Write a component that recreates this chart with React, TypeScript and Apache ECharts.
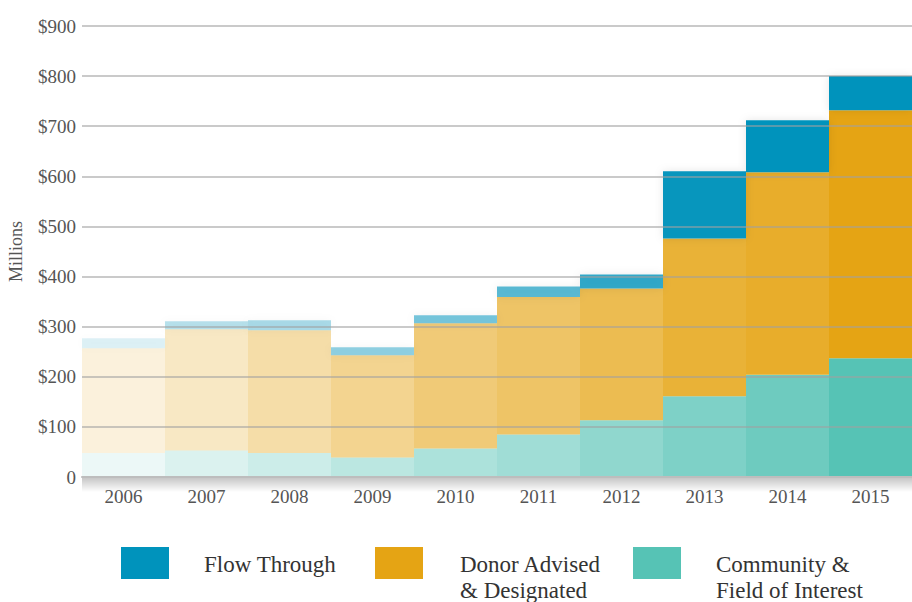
import React, { useEffect, useRef } from "react";
import * as echarts from "echarts";

const years = ["2006", "2007", "2008", "2009", "2010", "2011", "2012", "2013", "2014", "2015"];
const community = [48, 53, 48, 39, 57, 85, 113, 161, 204, 237];
const donorAdvised = [209, 242, 245, 204, 250, 274, 263, 315, 404, 495];
const flowThrough = [20, 16, 20, 16, 16, 21, 28, 134, 104, 68];
const yTicks = ["0", "$100", "$200", "$300", "$400", "$500", "$600", "$700", "$800", "$900"];

const seriesNames = ["Flow Through", "Donor Advised\n& Designated", "Community &\nField of Interest"];
const COLORS = { flow: "#0093BC", donor: "#E5A414", community: "#56C3B5" };
const opCommunity = [0.11, 0.21, 0.3, 0.4, 0.49, 0.56, 0.66, 0.76, 0.86, 1];
const opDonor = [0.15, 0.25, 0.37, 0.47, 0.58, 0.65, 0.74, 0.85, 0.9, 1];
const opFlow = [0.13, 0.28, 0.33, 0.43, 0.53, 0.64, 0.8, 0.97, 1, 1];

const FONT = "'Liberation Serif', 'DejaVu Serif', serif";

export default function App() {
  const ref = useRef<HTMLDivElement>(null);
  useEffect(() => {
    if (!ref.current) return;
    const chart = echarts.init(ref.current, undefined, { renderer: "svg" });
    const mk = (vals: number[], ops: number[]) => vals.map((v, i) => ({ value: v, itemStyle: { opacity: ops[i] } }));
    const legendItems = [
      { name: seriesNames[0], color: COLORS.flow, x: 121, tx: 204 },
      { name: seriesNames[1], color: COLORS.donor, x: 375, tx: 460 },
      { name: seriesNames[2], color: COLORS.community, x: 633, tx: 716 },
    ];
    const graphics: any[] = [
      {
        type: "rect",
        left: 82,
        top: 478,
        z: 1,
        shape: { width: 830, height: 14 },
        style: {
          fill: new echarts.graphic.LinearGradient(0, 0, 0, 1, [
            { offset: 0, color: "rgba(0,0,0,0.22)" },
            { offset: 1, color: "rgba(0,0,0,0)" },
          ]),
        },
      },
    ];
    legendItems.forEach((it) => {
      graphics.push({ type: "rect", left: it.x, top: 547, shape: { width: 48, height: 32 }, style: { fill: it.color } });
      graphics.push({
        type: "text",
        left: it.tx,
        top: 551,
        style: { text: it.name, font: `23px ${FONT}`, fill: "#333", lineHeight: 26 },
      });
    });
    const shadow = { shadowBlur: 8, shadowColor: "rgba(0,0,0,0.10)" };
    chart.setOption({
      animation: false,
      grid: { left: 82, right: 0, top: 26, bottom: 125, containLabel: false, outerBoundsMode: "none" },
      xAxis: {
        type: "category",
        data: years,
        axisLine: { show: true, lineStyle: { color: "#bdbdbd", width: 2 } },
        axisTick: { show: false },
        axisLabel: { color: "#555", fontFamily: FONT, fontSize: 19, margin: 10 },
        z: 5,
      },
      yAxis: {
        type: "value",
        min: 0,
        max: 900,
        interval: 100,
        name: "Millions",
        nameLocation: "middle",
        nameGap: 57,
        nameRotate: 90,
        nameTextStyle: { color: "#555", fontFamily: FONT, fontSize: 18 },
        axisLine: { show: false },
        axisTick: { show: false },
        axisLabel: {
          color: "#555",
          fontFamily: FONT,
          fontSize: 19,
          margin: 6,
          formatter: (v: number) => yTicks[Math.round(v / 100)],
        },
        splitLine: { show: true, lineStyle: { color: "rgba(160,160,160,0.75)", width: 1.5 } },
        z: 5,
      },
      series: [
        {
          name: seriesNames[2],
          type: "bar",
          stack: "total",
          barWidth: "100%",
          itemStyle: { color: COLORS.community },
          data: mk(community, opCommunity),
        },
        {
          name: seriesNames[1],
          type: "bar",
          stack: "total",
          barWidth: "100%",
          itemStyle: { color: COLORS.donor },
          data: mk(donorAdvised, opDonor),
        },
        {
          name: seriesNames[0],
          type: "bar",
          stack: "total",
          barWidth: "100%",
          itemStyle: { color: COLORS.flow, ...shadow },
          data: mk(flowThrough, opFlow),
        },
      ],
      graphic: graphics,
    });
    return () => chart.dispose();
  }, []);
  return <div ref={ref} style={{ position: "absolute", left: 0, top: 0, width: 912, height: 602 }} />;
}
